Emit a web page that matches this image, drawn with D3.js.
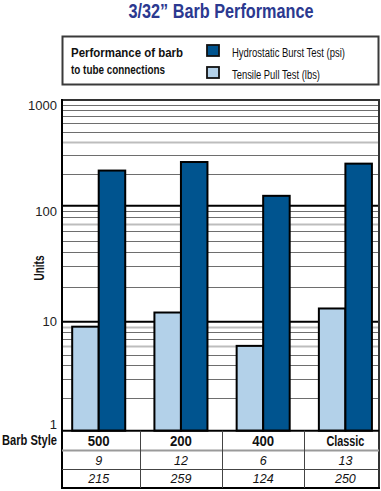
<!DOCTYPE html>
<html>
<head>
<meta charset="utf-8">
<script src="https://cdn.jsdelivr.net/npm/d3@7"></script>
<style>
  html, body { margin: 0; padding: 0; background: #fff; }
  svg { display: block; }
</style>
</head>
<body>
<svg id="chart" width="381" height="491"></svg>
<script>
// ---------- data ----------
const title = "3/32\u201D Barb Performance";
const categories = ["500", "200", "400", "Classic"];
const seriesNames = ["Tensile Pull Test (lbs)", "Hydrostatic Burst Test (psi)"];
const tensile = [9, 12, 6, 13];
const hydrostatic = [215, 259, 124, 250];
const yTicks = [1, 10, 100, 1000];
const minorTicks = [2,3,4,5,6,7,8,9, 20,30,40,50,60,70,80,90, 200,300,400,500,600,700,800,900];
const greyTicks = [6, 9, 70, 400];
const legendTitle = ["Performance of barb", "to tube connections"];
const rowLabel = "Barb Style";

// ---------- layout ----------
const svg = d3.select("#chart");
const L = 62, R = 379, T = 100, B = 430.7;
const tableRows = [430.7, 450.5, 469.5, 488];
const colors = { tensile: "#b3d1e9", hydro: "#00548f" };
const condensed = "'Liberation Sans Narrow', 'Arial Narrow', 'Liberation Sans', sans-serif";
const regular = "'Liberation Sans', Arial, sans-serif";

const y = d3.scaleLog().domain([1, 10, 100, 1000]).range([B, 321.7, 205.7, T]);
const x = d3.scaleBand().domain(categories).range([L, R])
  .paddingInner(0.355).paddingOuter(0.105).align(0.59);
const xs = d3.scaleBand().domain(["tensile", "hydro"]).range([0, x.bandwidth()]);

function condText(sel, len) {
  return sel.attr("font-family", condensed)
    .attr("textLength", len).attr("lengthAdjust", "spacingAndGlyphs");
}

// Title
condText(svg.append("text"), 185).attr("x", 221).attr("y", 18).attr("text-anchor", "middle")
  .attr("font-weight", "bold").attr("font-size", 19.5)
  .attr("fill", "#2b3990").text(title);

// Legend box
svg.append("rect").attr("x", 62.5).attr("y", 36.5).attr("width", 316).attr("height", 48)
  .attr("fill", "#fff").attr("stroke", "#3a3a3a").attr("stroke-width", 2);
const legendTitleW = [112, 94];
legendTitle.forEach((t, i) => {
  condText(svg.append("text"), legendTitleW[i]).attr("x", 71).attr("y", 57 + i * 17)
    .attr("font-weight", "bold").attr("font-size", 13.5)
    .attr("fill", "#111").text(t);
});
const legendItems = [
  { name: seriesNames[1], color: colors.hydro, w: 113 },
  { name: seriesNames[0], color: colors.tensile, w: 88 }
];
legendItems.forEach((d, i) => {
  svg.append("rect").attr("x", 207).attr("y", 45 + i * 22).attr("width", 12).attr("height", 11)
    .attr("fill", d.color).attr("stroke", "#111").attr("stroke-width", 1.8);
  condText(svg.append("text"), d.w).attr("x", 232).attr("y", 56.5 + i * 22)
    .attr("font-size", 12.5).attr("fill", "#111")
    .text(d.name);
});

// Gridlines
const g = svg.append("g");
g.selectAll("line.minor").data(minorTicks).join("line")
  .attr("x1", L).attr("x2", R)
  .attr("y1", d => Math.round(y(d)) + 0.5).attr("y2", d => Math.round(y(d)) + 0.5)
  .attr("stroke", d => greyTicks.includes(d) ? "#bdbdbd" : "#6e6e6e")
  .attr("stroke-width", d => greyTicks.includes(d) ? 2 : 1);
g.selectAll("line.major").data([10, 100]).join("line")
  .attr("x1", L).attr("x2", R).attr("y1", d => y(d)).attr("y2", d => y(d))
  .attr("stroke", "#000").attr("stroke-width", 2);

// Bars
const barData = categories.map((c, i) => ({ c, tensile: tensile[i], hydro: hydrostatic[i] }));
const bars = svg.append("g");
["tensile", "hydro"].forEach(key => {
  bars.selectAll("rect." + key).data(barData).join("rect")
    .attr("class", key)
    .attr("x", d => x(d.c) + xs(key))
    .attr("width", xs.bandwidth())
    .attr("y", d => y(d[key]))
    .attr("height", d => y(1) - y(d[key]))
    .attr("fill", colors[key]).attr("stroke", "#000").attr("stroke-width", 2);
});

// Frame
svg.append("line").attr("x1", L).attr("x2", R).attr("y1", T).attr("y2", T)
  .attr("stroke", "#333").attr("stroke-width", 2);
svg.append("line").attr("x1", R).attr("x2", R).attr("y1", T - 1).attr("y2", 489)
  .attr("stroke", "#333").attr("stroke-width", 2);
svg.append("line").attr("x1", L).attr("x2", L).attr("y1", T - 1).attr("y2", 489)
  .attr("stroke", "#000").attr("stroke-width", 2);

// Y axis tick labels
const tickOffset = { 1: -5, 10: 1, 100: 7, 1000: 7 };
svg.selectAll("text.ytick").data(yTicks).join("text")
  .attr("x", 57).attr("y", d => y(d) + tickOffset[d])
  .attr("text-anchor", "end").attr("dominant-baseline", "middle")
  .attr("font-family", regular).attr("font-size", 13).attr("fill", "#222")
  .text(d => d);
condText(svg.append("text"), 25).attr("transform", "translate(44,268) rotate(-90)")
  .attr("text-anchor", "middle").attr("font-weight", "bold")
  .attr("font-size", 14).attr("fill", "#111").text("Units");

// Table
const centers = categories.map(c => x(c) + x.bandwidth() / 2);
const dividers = centers.slice(0, -1).map((c, i) => (c + centers[i + 1]) / 2);
svg.append("line").attr("x1", L).attr("x2", R).attr("y1", tableRows[0]).attr("y2", tableRows[0])
  .attr("stroke", "#000").attr("stroke-width", 2);
svg.append("line").attr("x1", L).attr("x2", R).attr("y1", tableRows[1]).attr("y2", tableRows[1])
  .attr("stroke", "#9a9a9a").attr("stroke-width", 2);
svg.append("line").attr("x1", L).attr("x2", R).attr("y1", tableRows[2]).attr("y2", tableRows[2])
  .attr("stroke", "#444").attr("stroke-width", 1);
svg.append("line").attr("x1", L - 1).attr("x2", R + 1).attr("y1", tableRows[3]).attr("y2", tableRows[3])
  .attr("stroke", "#000").attr("stroke-width", 2);
svg.selectAll("line.div").data(dividers).join("line")
  .attr("x1", d => Math.round(d) + 0.5).attr("x2", d => Math.round(d) + 0.5)
  .attr("y1", tableRows[0]).attr("y2", tableRows[3])
  .attr("stroke", "#444").attr("stroke-width", 1);

condText(svg.append("text"), 55).attr("x", 57).attr("y", 445).attr("text-anchor", "end")
  .attr("font-weight", "bold").attr("font-size", 14.5)
  .attr("fill", "#111").text(rowLabel);
const catW = { "500": 22, "200": 22, "400": 22, "Classic": 38 };
svg.selectAll("text.cat").data(categories).join("text")
  .attr("font-family", condensed)
  .attr("textLength", d => catW[d]).attr("lengthAdjust", "spacingAndGlyphs")
  .attr("x", (d, i) => centers[i]).attr("y", 445.5).attr("text-anchor", "middle")
  .attr("font-weight", "bold").attr("font-size", 15)
  .attr("fill", "#111").text(d => d);
[tensile, hydrostatic].forEach((vals, r) => {
  svg.selectAll("text.val" + r).data(vals).join("text")
    .attr("x", (d, i) => centers[i]).attr("y", 464.5 + r * 18.5).attr("text-anchor", "middle")
    .attr("font-family", regular).attr("font-style", "italic").attr("font-size", 12.5)
    .attr("fill", "#111").text(d => d);
});
</script>
</body>
</html>
